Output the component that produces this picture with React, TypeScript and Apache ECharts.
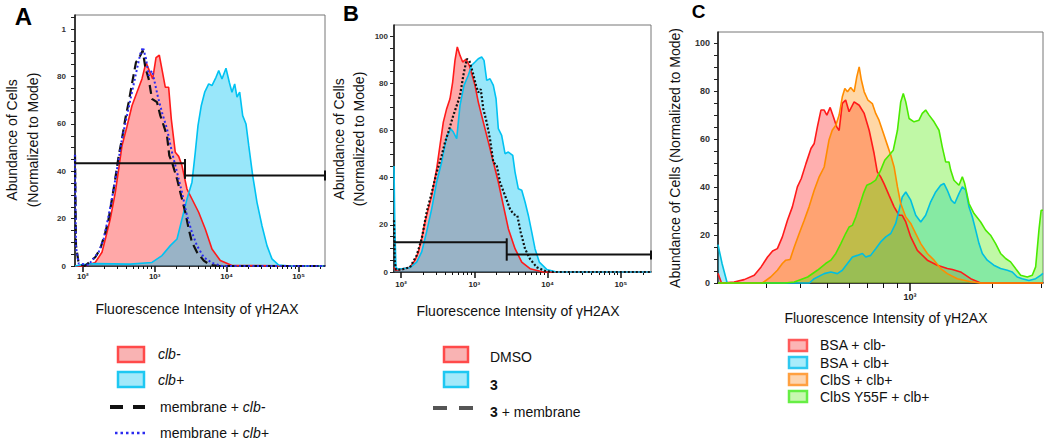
import React, { useEffect, useRef } from 'react';
import * as echarts from 'echarts';

const FONT = '"Liberation Sans", Arial, Helvetica, sans-serif';

// ---------------- Panel A data: [fluorescence intensity, % of mode] ----------------
const aClbMinus: number[][] = [
  [78, 0], [107, 0], [149, 1.5], [185, 5.8], [206, 11.4], [241, 19.8], [283, 31], [316, 41], [351, 50.8],
  [412, 59], [483, 67.7], [567, 73.4], [665, 79], [757, 86], [841, 82.5], [938, 79], [1043, 88], [1159, 89],
  [1262, 83], [1403, 75.5], [1563, 75.5], [1701, 62], [1933, 48], [2154, 46.3], [2393, 42.4], [2810, 32.5],
  [3297, 28.3], [4083, 22.7], [5047, 15.6], [6252, 7.2], [8160, 2.3], [11860, 0.2], [233000, 0],
];
const aClbPlus: number[][] = [
  [78, 0], [95, 0.5], [149, 1], [454, 0.8], [916, 1.5], [1262, 4.4], [1648, 8.6], [2043, 11.4], [2393, 19.8],
  [2810, 28.3], [3297, 35.4], [3664, 48], [3998, 59.3], [4446, 67.8], [4955, 73.4], [5632, 76.9], [6252, 76.2],
  [7112, 79.7], [7762, 82.5], [8614, 79], [9794, 83.5], [10890, 77.6], [11860, 73.4], [12940, 76.9],
  [13930, 71.3], [15180, 73.4], [16710, 63.5], [18580, 60], [20270, 50.9], [23030, 38.2], [26420, 26.9],
  [30990, 17], [36380, 8.6], [42660, 3], [52870, 0.4], [76000, 0], [233000, 0],
];
const aMembraneClbMinus: number[][] = [
  [78, 47], [80.5, 8.7], [87.8, 1], [107, 0], [149, 3.7], [175, 7.2], [206, 14.2], [229, 19.8], [255, 28.3],
  [283, 36.8], [316, 46.6], [351, 53.7], [390, 62.1], [435, 69.2], [483, 76.9], [549, 86], [631, 88.9],
  [681, 91], [740, 84], [825, 79], [916, 70.6], [1076, 69.2], [1197, 63.5], [1334, 59.3], [1483, 55],
  [1596, 46.6], [1739, 43.8], [2043, 36.8], [2270, 31.1], [2663, 22.7], [2971, 15.6], [3297, 10], [3871, 5.8],
  [4800, 2.3], [5925, 0.4], [8000, 0], [233000, 0],
];
const aMembraneClbPlus: number[][] = [
  [78, 47], [80.5, 8], [87.8, 1], [120, 0.5], [166, 5.8], [195, 11.4], [229, 21.3], [269, 32.5], [316, 45.2],
  [351, 53.7], [412, 63.5], [483, 73.4], [567, 83.2], [631, 89.6], [687, 92.4], [757, 87.5], [825, 80.4],
  [917, 82.5], [1000, 77.6], [1111, 71.3], [1262, 64.9], [1483, 57.9], [1739, 48], [2043, 39.6], [2393, 31.1],
  [2810, 21.3], [3297, 14.2], [3871, 8.6], [4800, 3.7], [6252, 1.3], [8614, 0], [233000, 0],
];
const aGateUpper: number[][] = [[78, 43.4], [2636, 43.4]];
const aGateLower: number[][] = [[2636, 38.2], [233000, 38.2]];
const aGateCapMid: number[][] = [[2636, 36.8], [2636, 45.2]];
const aGateCapEnd: number[][] = [[233000, 36.1], [233000, 40.3]];

// ---------------- Panel B data ----------------
const bDmso: number[][] = [
  [80, 2], [84, 0.8], [100, 1.2], [132, 2], [155, 5], [172, 8.5], [191, 14.1], [212, 21.2], [235, 26.9],
  [262, 32.5], [306, 43.8], [340, 53.8], [377, 63.6], [419, 69.3], [465, 73.5], [506, 80.6], [544, 89.8],
  [585, 95.5], [637, 91.9], [693, 89.1], [769, 90.2], [853, 87.7], [1021, 79.2], [1132, 72.1], [1325, 63.6],
  [1552, 55.2], [1816, 46.7], [2125, 38.2], [2486, 28.3], [2911, 18.4], [3592, 9.9], [4436, 4.2], [5760, 1.4],
  [8750, 0], [258000, 0],
];
const bCompound3: number[][] = [
  [80, 45], [82, 20], [85, 2], [90, 1.2], [132, 1.8], [163, 4.2], [191, 8.5], [223, 17], [262, 26.9],
  [306, 38.2], [358, 46.7], [419, 57.3], [476, 60.8], [516, 59.4], [574, 56.6], [637, 70.7], [722, 79.2],
  [827, 83.5], [920, 87.7], [1021, 89.1], [1132, 90.5], [1259, 91.2], [1355, 89.8], [1475, 81.3], [1637, 82],
  [1816, 79.2], [1978, 73.5], [2125, 60.8], [2360, 58], [2624, 50.2], [2911, 50.9], [3343, 49.5], [3592, 42.4],
  [3985, 35.3], [4436, 34.7], [4924, 29.7], [5461, 24], [6068, 17], [6732, 9.9], [7705, 4.2], [9730, 1.1],
  [13330, 0], [258000, 0],
];
const bCompound3Membrane: number[][] = [
  [80, 22], [81.5, 5], [85, 1], [100, 1], [132, 2], [163, 7], [191, 14.1], [223, 25.3], [262, 33.8],
  [306, 42.3], [358, 49.4], [397, 55], [441, 59.3], [516, 66.4], [574, 70.6], [637, 74.8], [706, 83.3],
  [787, 90.4], [853, 89.7], [951, 84.7], [1054, 79.1], [1132, 76.2], [1222, 77.6], [1325, 69.2], [1475, 63.5],
  [1637, 56.4], [1816, 46.5], [2017, 45.4], [2240, 38], [2624, 32.4], [3070, 26.7], [3406, 24.6], [3862, 23.9],
  [4300, 16.8], [4924, 9.8], [5760, 5.5], [7100, 2], [9530, 0.3], [12000, 0], [258000, 0],
];
const bGateUpper: number[][] = [[80, 12.6], [2767, 12.6]];
const bGateLower: number[][] = [[2767, 7.4], [258000, 7.4]];
const bGateCapMid: number[][] = [[2767, 4.8], [2767, 14.3]];
const bGateCapEnd: number[][] = [[258000, 5.3], [258000, 9.1]];

// ---------------- Panel C data ----------------
const cBsaClbMinus: number[][] = [
  [200, 4], [206, 0], [229, 0.4], [249, 1.4], [271, 3.2], [287, 6.7], [303, 10.8], [316, 13.3], [329, 14.3],
  [343, 19.2], [358, 26.1], [373, 31.7], [389, 40], [402, 43.5], [418, 49.7], [436, 56], [448, 58.1],
  [460, 65], [474, 72], [487, 72], [498, 69.9], [512, 73.1], [526, 69.2], [541, 65], [552, 63.5], [567, 74.8],
  [583, 76.2], [600, 71.3], [626, 75.4], [653, 74], [681, 70.6], [710, 63.6], [740, 53.9], [760, 46.3],
  [782, 44.2], [804, 41.4], [839, 36.5], [875, 31.7], [912, 28.2], [937, 28.2], [965, 25.4], [1006, 19.2],
  [1063, 13.6], [1156, 9.5], [1257, 7.4], [1367, 6], [1426, 5.6], [1528, 4.6], [1663, 1.8], [1808, 0], [3048, 0],
];
const cBsaClbPlus: number[][] = [
  [200, 16], [207, 8], [216, 0], [430, 0], [448, 1.8], [487, 3.9], [515, 4.6], [544, 3.9], [567, 5.3],
  [592, 8.1], [617, 10.8], [643, 11.5], [671, 12.3], [690, 10.8], [719, 11.5], [750, 14.3], [782, 17.1],
  [816, 19.2], [851, 20.6], [887, 24.8], [912, 30.3], [937, 35.8], [965, 37.9], [1006, 34.5], [1049, 28.2],
  [1094, 25.4], [1140, 28.2], [1189, 33.8], [1240, 37.9], [1293, 40.7], [1330, 41.4], [1367, 38.6],
  [1413, 34.5], [1454, 33.1], [1507, 37.2], [1550, 40], [1596, 38.6], [1639, 31.7], [1686, 27.5], [1734, 22],
  [1783, 16.4], [1833, 12.3], [1910, 9.5], [2018, 7.4], [2136, 6], [2259, 5.3], [2356, 4.6], [2456, 2.5],
  [2561, 1.8], [2708, 1], [2866, 1.8], [2986, 3.2], [3048, 4],
];
const cClbS: number[][] = [
  [200, 0], [290, 0], [311, 2.5], [329, 5.3], [343, 8.1], [353, 9.5], [366, 9.8], [379, 15], [395, 20.6],
  [412, 26.1], [429, 31.7], [448, 38.6], [467, 44.2], [487, 48.3], [507, 59.5], [521, 63.6], [537, 65.7],
  [552, 69.9], [567, 77.5], [579, 81], [592, 79.6], [608, 81.4], [626, 79.6], [640, 85.8], [653, 90],
  [665, 84.5], [681, 79.6], [703, 76.1], [729, 74.7], [750, 70.6], [771, 67.8], [800, 62.3], [827, 57.4],
  [851, 53.2], [875, 48.3], [900, 40], [925, 33.1], [965, 27.5], [1006, 24.8], [1049, 20.6], [1094, 16.4],
  [1156, 12.3], [1223, 9.5], [1293, 6], [1367, 3.9], [1486, 1.8], [1663, 0.5], [1808, 0], [3048, 0],
];
const cClbSY55F: number[][] = [
  [200, 0], [350, 0], [379, 0.4], [424, 2.5], [460, 5.3], [493, 8.1], [515, 9.5], [537, 12.3], [560, 16.4],
  [583, 20.6], [600, 23.3], [617, 24], [635, 27.5], [653, 31.7], [676, 37.2], [696, 40.7], [719, 41.4],
  [750, 42.8], [782, 47], [809, 51.1], [839, 53.2], [869, 55.3], [900, 63.6], [925, 75.4], [945, 78.9],
  [965, 75.4], [992, 68.5], [1034, 67.1], [1078, 67.8], [1108, 70.6], [1140, 72], [1173, 69.9], [1223, 67.1],
  [1275, 63.6], [1310, 56.7], [1348, 50.4], [1386, 50.4], [1406, 47], [1445, 42.8], [1507, 40.7], [1550, 44.2],
  [1581, 41.4], [1639, 33.1], [1710, 28.9], [1808, 25.4], [1884, 22], [1964, 19.9], [2049, 16.4], [2136, 12.3],
  [2228, 10.2], [2323, 8.8], [2422, 6], [2527, 3.2], [2672, 2.5], [2786, 3.2], [2866, 6.7], [2946, 22],
  [3001, 30.3], [3048, 30.3],
];

// ---------------- Axis ticks / labels ----------------
const abDecades = [100, 1000, 10000, 100000];
const abMinorTicks = [
  200, 300, 400, 500, 600, 700, 800, 900, 2000, 3000, 4000, 5000, 6000, 7000, 8000, 9000,
  20000, 30000, 40000, 50000, 60000, 70000, 80000, 90000, 200000,
];
const cMajorTicks = [1000];
const cMinorTicks = [300, 400, 500, 600, 700, 800, 900, 2000, 3000];
const decadeNames: Record<number, string> = { 100: '10²', 1000: '10³', 10000: '10⁴', 100000: '10⁵' };
const yLabelValues = [0, 20, 40, 60, 80, 100];
const yTickValues = [0, 5, 10, 15, 20, 25, 30, 35, 40, 45, 50, 55, 60, 65, 70, 75, 80, 85, 90, 95, 100, 105];

const X_TITLE = 'Fluorescence Intensity of γH2AX';
const Y_TITLE_1 = 'Abundance of Cells';
const Y_TITLE_2 = '(Normalized to Mode)';
const Y_TITLE_C = 'Abundance of Cells (Normalized to Mode)';

const legendA = ['clb-', 'clb+', 'membrane + clb-', 'membrane + clb+'];
const legendB = ['DMSO', '3', '3 + membrane'];
const legendC = ['BSA + clb-', 'BSA + clb+', 'ClbS + clb+', 'ClbS Y55F + clb+'];

// saturated colours drawn with transparency, like the cytometry overlay
const RED = '#ff1a1a';
const CYAN = '#00c2f2';
const ORANGE = '#ff8c00';
const GREEN = '#4aea00';
const FILL_ALPHA = 0.38;

function hist(name: string, data: number[][], xi: number, yi: number, line: string, fill: string | null, extra: any = {}) {
  return {
    name,
    type: 'line',
    xAxisIndex: xi,
    yAxisIndex: yi,
    data,
    symbol: 'none',
    silent: true,
    clip: false,
    lineStyle: { color: line, width: 1.6, ...(extra.lineStyle || {}) },
    areaStyle: fill ? { color: fill, opacity: extra.alpha ?? FILL_ALPHA } : undefined,
    z: extra.z ?? 2,
  };
}

function gate(data: number[][], xi: number, yi: number) {
  return {
    type: 'line', xAxisIndex: xi, yAxisIndex: yi, data, symbol: 'none', silent: true, clip: false,
    lineStyle: { color: '#111', width: 2 }, z: 6,
  };
}

function logXAxis(grid: number, min: number, max: number, ticks: number[], labels: number[], margin: number, fontSize: number, len: number) {
  return {
    gridIndex: grid, type: 'log', logBase: 10, min, max, position: 'bottom',
    axisLine: { show: true, lineStyle: { color: '#111', width: 1.5 } },
    axisTick: { show: true, customValues: ticks, length: len, lineStyle: { color: '#111', width: 1.5 } },
    axisLabel: {
      show: labels.length > 0, customValues: labels, margin, fontSize, fontFamily: FONT, color: '#222', fontWeight: 'bold',
      formatter: (v: number) => decadeNames[Math.round(v)] ?? '',
    },
    splitLine: { show: false }, minorTick: { show: false },
  };
}

function minorXAxis(grid: number, min: number, max: number, ticks: number[], len: number) {
  return {
    gridIndex: grid, type: 'log', logBase: 10, min, max, position: 'bottom',
    axisLine: { show: false },
    axisTick: { show: true, customValues: ticks, length: len, lineStyle: { color: '#111', width: 1 } },
    axisLabel: { show: false }, splitLine: { show: false },
  };
}

function yAxis(grid: number, max: number, margin: number, fontSize: number, topLabel: string) {
  return {
    gridIndex: grid, type: 'value', min: 0, max,
    axisLine: { show: true, lineStyle: { color: '#111', width: 1.5 } },
    axisTick: { show: true, customValues: yTickValues.filter((v) => v <= max), length: 4, lineStyle: { color: '#222', width: 1 } },
    axisLabel: {
      customValues: yLabelValues, margin, fontSize, fontFamily: FONT, color: '#333', fontWeight: 'bold',
      formatter: (v: number) => (v === 100 ? topLabel : String(v)),
    },
    splitLine: { show: false },
  };
}

function txt(text: string, x: number, y: number, size: number, opts: any = {}) {
  return {
    type: 'text', x, y, rotation: opts.rotation ?? 0, silent: true,
    style: {
      text, fontSize: size, fontFamily: FONT, fontWeight: opts.weight ?? 'normal', fontStyle: opts.italic ? 'italic' : 'normal',
      fill: opts.color ?? '#111', align: opts.align ?? 'left', verticalAlign: 'middle',
      rich: opts.rich,
    },
  };
}

function swatch(x: number, y: number, w: number, h: number, stroke: string, fill: string) {
  return { type: 'rect', silent: true, shape: { x, y, width: w, height: h }, style: { fill, stroke, lineWidth: 2.5 } };
}

function seg(x1: number, y1: number, x2: number, y2: number, color: string, width: number, dash?: number[]) {
  return { type: 'line', silent: true, shape: { x1, y1, x2, y2 }, style: { stroke: color, lineWidth: width, lineDash: dash } };
}

export default function App() {
  const ref = useRef<HTMLDivElement>(null);

  useEffect(() => {
    if (!ref.current) return;
    const chart = echarts.init(ref.current, null, { renderer: 'svg' });
    const italic = { fontStyle: 'italic', fontSize: 14, fontFamily: FONT, fill: '#111' };
    const bold = { fontWeight: 'bold', fontSize: 14, fontFamily: FONT, fill: '#111' };

    chart.setOption({
      animation: false,
      textStyle: { fontFamily: FONT },
      grid: [
        { left: 75, top: 15, width: 250, height: 251, show: true, borderColor: '#777', borderWidth: 1 },
        { left: 394, top: 25, width: 257, height: 247, show: true, borderColor: '#777', borderWidth: 1 },
        { left: 718, top: 32, width: 325, height: 251, show: true, borderColor: '#777', borderWidth: 1 },
      ],
      xAxis: [
        logXAxis(0, 78, 233000, abDecades, abDecades, 6, 8, 6),
        minorXAxis(0, 78, 233000, abMinorTicks, 3),
        logXAxis(1, 80, 258000, abDecades, abDecades, 8, 8, 6),
        minorXAxis(1, 80, 258000, abMinorTicks, 3),
        logXAxis(2, 200, 3048, cMajorTicks, cMajorTicks, 9, 9, 8),
        minorXAxis(2, 200, 3048, cMinorTicks, 5),
      ],
      yAxis: [
        yAxis(0, 106, 9, 8, '1'),
        yAxis(1, 104.8, 6, 8, '100'),
        yAxis(2, 104.5, 8, 9, '100'),
      ],
      series: [
        hist(legendA[0], aClbMinus, 0, 0, RED, RED),
        hist(legendA[1], aClbPlus, 0, 0, CYAN, CYAN, { alpha: 0.4 }),
        hist(legendA[2], aMembraneClbMinus, 0, 0, '#111', null, { lineStyle: { width: 2.2, type: [9, 5] }, z: 4 }),
        hist(legendA[3], aMembraneClbPlus, 0, 0, '#2b2bf0', null, { lineStyle: { width: 2, type: [2, 2.5] }, z: 5 }),
        gate(aGateUpper, 0, 0), gate(aGateLower, 0, 0), gate(aGateCapMid, 0, 0), gate(aGateCapEnd, 0, 0),

        hist(legendB[0], bDmso, 2, 1, RED, RED),
        hist(legendB[1], bCompound3, 2, 1, CYAN, CYAN, { alpha: 0.4 }),
        hist(legendB[2], bCompound3Membrane, 2, 1, '#111', null, { lineStyle: { width: 2.2, type: [2, 2] }, z: 4 }),
        gate(bGateUpper, 2, 1), gate(bGateLower, 2, 1), gate(bGateCapMid, 2, 1), gate(bGateCapEnd, 2, 1),

        hist(legendC[0], cBsaClbMinus, 4, 2, RED, RED, { alpha: 0.35 }),
        hist(legendC[1], cBsaClbPlus, 4, 2, '#00bfe0', CYAN, { alpha: 0.35 }),
        hist(legendC[2], cClbS, 4, 2, ORANGE, ORANGE, { alpha: 0.35 }),
        hist(legendC[3], cClbSY55F, 4, 2, GREEN, GREEN, { alpha: 0.35 }),
      ],
      graphic: [
        // panel letters
        txt('A', 23.5, 16.5, 24, { weight: 'bold', align: 'center', color: '#000' }),
        txt('B', 351, 13, 22, { weight: 'bold', align: 'center', color: '#000' }),
        txt('C', 698.5, 11.5, 19, { weight: 'bold', align: 'center', color: '#000' }),
        // axis titles
        txt(Y_TITLE_1, 12, 140, 14, { rotation: Math.PI / 2, align: 'center' }),
        txt(Y_TITLE_2, 33, 140, 14, { rotation: Math.PI / 2, align: 'center' }),
        txt(Y_TITLE_1, 339, 139, 14, { rotation: Math.PI / 2, align: 'center' }),
        txt(Y_TITLE_2, 359, 139, 14, { rotation: Math.PI / 2, align: 'center' }),
        txt(Y_TITLE_C, 675, 158, 14, { rotation: Math.PI / 2, align: 'center' }),
        txt(X_TITLE, 197, 309, 14, { align: 'center' }),
        txt(X_TITLE, 518, 311, 14, { align: 'center' }),
        txt(X_TITLE, 886, 318, 14, { align: 'center' }),
        // legend A
        swatch(118, 347, 26, 15, '#ff4a4a', '#f9b3b3'),
        swatch(118, 372, 26, 15, '#1ec8f2', '#a3e9fa'),
        seg(110, 407, 123, 407, '#111', 4),
        seg(133, 407, 145, 407, '#111', 4),
        seg(115, 433, 145, 433, '#2b2bf0', 2.5, [2.5, 3]),
        txt(legendA[0], 158, 354, 14, { italic: true }),
        txt(legendA[1], 158, 380, 14, { italic: true }),
        txt('membrane + {i|clb-}', 160, 407, 14, { rich: { i: italic } }),
        txt('membrane + {i|clb+}', 160, 433, 14, { rich: { i: italic } }),
        // legend B
        swatch(444, 347, 24, 15, '#ff4a4a', '#f9b3b3'),
        swatch(444, 372, 24, 15, '#1ec8f2', '#a3e9fa'),
        seg(433, 408, 447, 408, '#555', 4),
        seg(459, 408, 473, 408, '#555', 4),
        txt(legendB[0], 490, 357, 14),
        txt(legendB[1], 490, 385, 14, { weight: 'bold' }),
        txt('{b|3} + membrane', 490, 412, 14, { rich: { b: bold } }),
        // legend C
        swatch(789, 340, 18, 11, '#ff5a5a', '#fcb5b5'),
        swatch(789, 357, 18, 11, '#2ec8f0', '#a8ecfb'),
        swatch(789, 374, 18, 11, '#ffa040', '#fdd5b0'),
        swatch(789, 391, 18, 11, '#66ee44', '#c8f8b0'),
        txt(legendC[0], 820, 345, 14),
        txt(legendC[1], 820, 363, 14),
        txt(legendC[2], 820, 380, 14),
        txt(legendC[3], 820, 397, 14),
      ],
    });
    return () => chart.dispose();
  }, []);

  return (
    <div ref={ref} style={{ position: 'absolute', left: 0, top: 0, width: 1050, height: 443, background: '#fff' }} />
  );
}
